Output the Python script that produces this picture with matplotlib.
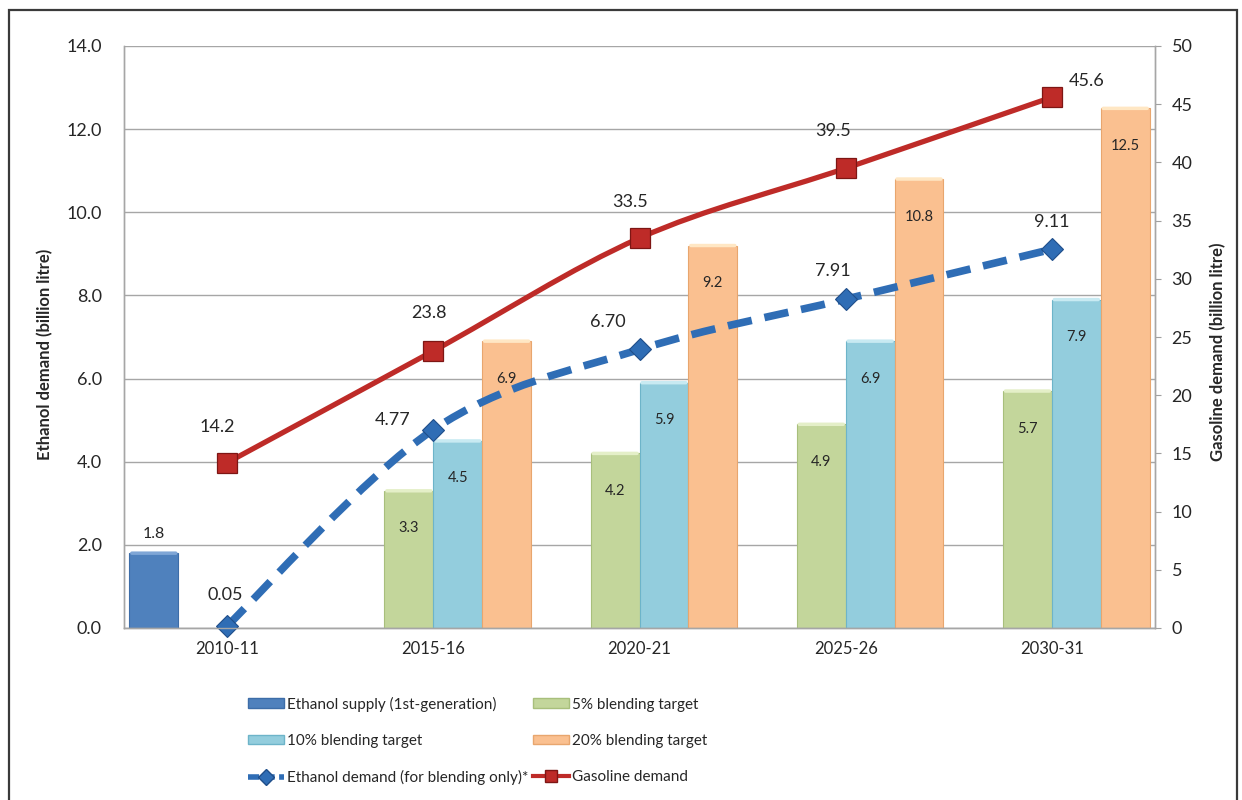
import matplotlib
matplotlib.use('Agg')
import matplotlib.pyplot as plt
import numpy as np
from matplotlib.path import Path
from matplotlib.patches import PathPatch, Patch, Rectangle
from matplotlib.lines import Line2D

# ---------------- data ----------------
categories = ['2010-11', '2015-16', '2020-21', '2025-26', '2030-31']
ethanol_supply = [1.8, None, None, None, None]
blend5 = [None, 3.3, 4.2, 4.9, 5.7]
blend10 = [None, 4.5, 5.9, 6.9, 7.9]
blend20 = [None, 6.9, 9.2, 10.8, 12.5]
ethanol_demand = [0.05, 4.77, 6.70, 7.91, 9.11]
ethanol_demand_text = ['0.05', '4.77', '6.70', '7.91', '9.11']
gasoline_demand = [14.2, 23.8, 33.5, 39.5, 45.6]
left_ticks = [0, 2, 4, 6, 8, 10, 12, 14]
right_ticks = [0, 5, 10, 15, 20, 25, 30, 35, 40, 45, 50]

series_names = ['Ethanol supply (1st-generation)', '5% blending target',
                '10% blending target', '20% blending target']
line_names = ['Ethanol demand (for blending only)*', 'Gasoline demand']

# ---------------- style ----------------
plt.rcParams['font.family'] = ['Lato', 'DejaVu Sans']
TXT = '#262626'
bar_colors = ['#4F81BD', '#C3D69B', '#93CDDD', '#FAC090']
bar_edges = ['#3D6DA8', '#A8BF7C', '#6DB4C9', '#E8A66E']
bar_caps = ['#7FA6D6', '#E4EFC8', '#C8EAF2', '#FFE7C4']
RED = '#BE2B28'
RED_EDGE = '#7E1614'
BLUE = '#2F6DB5'
BLUE_EDGE = '#1F4E8A'

W, H = 1242, 800
fig = plt.figure(figsize=(W / 100, H / 100), dpi=100)
fig.patch.set_facecolor('white')
ax = fig.add_axes([124 / W, 1 - 628 / H, (1155 - 124) / W, (628 - 46) / H])
ax2 = ax.twinx()

# figure border
fig.patches.append(Rectangle((9 / W, -0.05), (1237 - 9) / W, 1.05 - 10 / H,
                             transform=fig.transFigure, fill=False,
                             edgecolor='#3a3a3a', lw=1.6, zorder=0))

x = np.arange(len(categories))
bw = 0.237
offsets = [-1.5, -0.5, 0.5, 1.5]
all_series = [ethanol_supply, blend5, blend10, blend20]

for s, vals in enumerate(all_series):
    for i, v in enumerate(vals):
        if v is None:
            continue
        xc = x[i] + offsets[s] * bw
        ax.bar(xc, v, width=bw, color=bar_colors[s], edgecolor=bar_edges[s],
               linewidth=0.8, zorder=2)
        # light bevel cap at the top of the bar
        ax.annotate('', (xc - bw / 2 * 0.9, v), xytext=(xc + bw / 2 * 0.9, v),
                    xycoords='data', textcoords='data',
                    arrowprops=dict(arrowstyle='-', color=bar_caps[s], lw=2.5,
                                    shrinkA=0, shrinkB=0),
                    zorder=3)
        if s == 0:
            ax.annotate(f'{v:.1f}', (xc, v), xytext=(0, 14), textcoords='offset points',
                        ha='center', va='center', fontsize=11.5, color=TXT, zorder=6)
        else:
            ax.annotate(f'{v:.1f}', (xc, v), xytext=(0, -27), textcoords='offset points',
                        ha='center', va='center', fontsize=10.5, color=TXT, zorder=6)


def smooth_path(xs, ys):
    pts = np.column_stack([xs, ys]).astype(float)
    n = len(pts)
    verts = [pts[0]]
    codes = [Path.MOVETO]
    for i in range(n - 1):
        p0 = pts[max(i - 1, 0)]
        p1 = pts[i]
        p2 = pts[i + 1]
        p3 = pts[min(i + 2, n - 1)]
        c1 = p1 + (p2 - p0) / 6.0
        c2 = p2 - (p3 - p1) / 6.0
        verts += [c1, c2, p2]
        codes += [Path.CURVE4] * 3
    return Path(verts, codes)


# ethanol demand (left axis), smoothed dashed line
ax.add_patch(PathPatch(smooth_path(x, ethanol_demand), fill=False, edgecolor=BLUE,
                       lw=5.5, linestyle=(0, (3.2, 1.7)), capstyle='butt', zorder=4))
ax.plot(x, ethanol_demand, linestyle='none', marker='D', ms=11, color=BLUE,
        markeredgecolor=BLUE_EDGE, markeredgewidth=0.8, zorder=5, clip_on=False)
ed_offsets = [(-1, 22), (-29, 7), (-23, 20), (-9, 20), (0, 20)]
for i, v in enumerate(ethanol_demand):
    ax.annotate(ethanol_demand_text[i], (x[i], v), xytext=ed_offsets[i],
                textcoords='offset points', ha='center', va='center',
                fontsize=13, color=TXT, zorder=6)

# gasoline demand (right axis), smoothed solid line
ax2.add_patch(PathPatch(smooth_path(x, gasoline_demand), fill=False, edgecolor=RED,
                        lw=3.8, zorder=4))
ax2.plot(x, gasoline_demand, linestyle='none', marker='s', ms=14, color=RED,
         markeredgecolor=RED_EDGE, markeredgewidth=0.9, zorder=5)
gd_offsets = [(-7, 26), (-3, 27), (-7, 26), (-9, 27), (25, 12)]
for i, v in enumerate(gasoline_demand):
    ax2.annotate(f'{v:.1f}', (x[i], v), xytext=gd_offsets[i],
                 textcoords='offset points', ha='center', va='center',
                 fontsize=13, color=TXT, zorder=6)

# axes
ax.set_xlim(-0.5, len(categories) - 0.5)
ax.set_ylim(0, 14)
ax2.set_ylim(0, 50)
ax.set_yticks(left_ticks)
ax.set_yticklabels([f'{t:.1f}' for t in left_ticks])
ax2.set_yticks(right_ticks)
ax2.set_yticklabels([str(t) for t in right_ticks])
ax.set_xticks(x)
ax.set_xticklabels(categories)

ax.tick_params(axis='y', length=0, pad=16, labelsize=13, labelcolor=TXT)
ax.tick_params(axis='x', length=0, pad=9, labelsize=12, labelcolor=TXT)
ax2.tick_params(axis='y', length=4, width=0.8, color='#A0A0A0', pad=8,
                labelsize=13, labelcolor=TXT, direction='out')

ax.grid(axis='y', color='#A6A6A6', lw=1.0, zorder=0)
ax.set_axisbelow(True)
for a in (ax, ax2):
    a.spines['top'].set_visible(False)
    for sp in ('left', 'bottom', 'right'):
        a.spines[sp].set_color('#A6A6A6')
        a.spines[sp].set_linewidth(1.0)
ax.set_facecolor('white')

fig.text(45 / W, 1 - 354 / H, 'Ethanol demand (billion litre)', rotation=90,
         ha='center', va='center', fontsize=12, fontweight='bold', color=TXT)
fig.text(1218 / W, 1 - 352 / H, 'Gasoline demand (billion litre)', rotation=90,
         ha='center', va='center', fontsize=12, fontweight='bold', color=TXT)

# legend
h_supply = Patch(facecolor=bar_colors[0], edgecolor=bar_edges[0])
h5 = Patch(facecolor=bar_colors[1], edgecolor=bar_edges[1])
h10 = Patch(facecolor=bar_colors[2], edgecolor=bar_edges[2])
h20 = Patch(facecolor=bar_colors[3], edgecolor=bar_edges[3])
h_ed = Line2D([], [], color=BLUE, lw=4, linestyle=(0, (2, 0.8)), marker='D', ms=8,
              markeredgecolor=BLUE_EDGE)
h_gd = Line2D([], [], color=RED, lw=3, marker='s', ms=9, markeredgecolor=RED_EDGE)
handles = [h_supply, h10, h_ed, h5, h20, h_gd]
labels = [series_names[0], series_names[2], line_names[0],
          series_names[1], series_names[3], line_names[1]]
fig.legend(handles, labels, loc='upper left', bbox_to_anchor=(240 / W, 1 - 689 / H),
           ncol=2, frameon=False, fontsize=11, handlelength=2.4, handleheight=0.6,
           handletextpad=0.15, columnspacing=0.3, labelspacing=1.45, borderpad=0,
           numpoints=1, labelcolor=TXT)

fig.savefig('out.png', dpi=100, facecolor='white')
